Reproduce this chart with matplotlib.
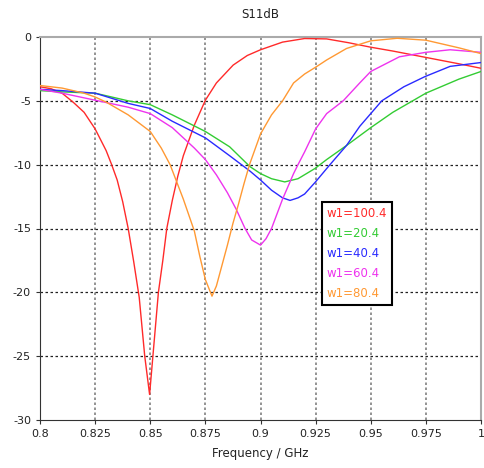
import numpy as np
import matplotlib
matplotlib.use('Agg')
import matplotlib.pyplot as plt

plt.rcParams['axes.unicode_minus'] = False
plt.rcParams['font.family'] = 'DejaVu Sans'

# curve data (frequency in GHz, S11 in dB)
f_100 = [0.800, 0.805, 0.810, 0.815, 0.820, 0.825, 0.830, 0.8325, 0.835, 0.8375, 0.840, 0.8425, 0.845,
         0.8475, 0.8497, 0.8512, 0.8537, 0.8557, 0.8575, 0.860, 0.8625, 0.865, 0.870, 0.875, 0.880,
         0.8876, 0.894, 0.900, 0.910, 0.920, 0.930, 0.940, 0.950, 0.960, 0.975, 0.990, 1.000]
s_100 = [-3.9, -4.05, -4.4, -5.1, -5.9, -7.2, -8.9, -10.0, -11.2, -12.9, -15.0, -17.6, -20.4,
         -25.0, -28.0, -25.0, -20.0, -17.5, -15.0, -12.8, -10.9, -9.3, -6.9, -4.95, -3.6,
         -2.2, -1.45, -1.0, -0.4, -0.12, -0.15, -0.45, -0.8, -1.1, -1.6, -2.1, -2.45]

f_20 = [0.800, 0.810, 0.825, 0.840, 0.850, 0.860, 0.875, 0.886, 0.8952, 0.900, 0.905, 0.911, 0.917,
        0.9247, 0.930, 0.939, 0.950, 0.960, 0.975, 0.990, 1.000]
s_20 = [-4.2, -4.3, -4.4, -5.0, -5.3, -6.1, -7.4, -8.6, -10.15, -10.7, -11.1, -11.35, -11.1,
        -10.3, -9.6, -8.5, -7.1, -5.9, -4.4, -3.3, -2.7]

f_40 = [0.800, 0.810, 0.825, 0.840, 0.850, 0.860, 0.875, 0.886, 0.8952, 0.900, 0.905, 0.910, 0.9134,
        0.917, 0.920, 0.9247, 0.9315, 0.939, 0.945, 0.955, 0.965, 0.9746, 0.986, 1.000]
s_40 = [-4.1, -4.2, -4.4, -5.2, -5.6, -6.6, -7.9, -9.3, -10.5, -11.2, -12.0, -12.6, -12.8,
        -12.6, -12.3, -11.4, -10.0, -8.5, -7.0, -5.0, -3.9, -3.1, -2.3, -2.0]

f_60 = [0.800, 0.810, 0.825, 0.840, 0.850, 0.860, 0.870, 0.875, 0.880, 0.885, 0.889, 0.893, 0.896,
        0.900, 0.9025, 0.905, 0.910, 0.915, 0.917, 0.920, 0.925, 0.930, 0.9375, 0.945, 0.950,
        0.963, 0.975, 0.986, 1.000]
s_60 = [-4.1, -4.4, -4.95, -5.5, -6.0, -7.1, -8.7, -9.6, -10.8, -12.2, -13.5, -15.0, -15.9,
        -16.3, -15.8, -15.0, -12.7, -10.7, -10.0, -9.0, -7.2, -6.0, -5.0, -3.6, -2.7,
        -1.55, -1.2, -1.0, -1.2]

f_80 = [0.800, 0.810, 0.820, 0.825, 0.830, 0.840, 0.850, 0.855, 0.859, 0.865, 0.870, 0.8725, 0.875,
        0.878, 0.880, 0.8825, 0.885, 0.8875, 0.890, 0.8925, 0.895, 0.900, 0.905, 0.910, 0.915,
        0.920, 0.9256, 0.930, 0.939, 0.950, 0.962, 0.975, 0.990, 1.000]
s_80 = [-3.8, -4.0, -4.4, -4.7, -5.1, -6.1, -7.4, -8.7, -10.0, -12.7, -15.2, -17.2, -19.0,
        -20.3, -19.5, -17.9, -16.3, -14.6, -13.1, -11.5, -10.0, -7.6, -6.1, -5.0, -3.6,
        -2.9, -2.3, -1.8, -0.9, -0.3, -0.1, -0.25, -0.85, -1.3]

labels = ['w1=100.4', 'w1=20.4', 'w1=40.4', 'w1=60.4', 'w1=80.4']
colors = ['#ff2a2a', '#33cc33', '#2a2aff', '#ee33ee', '#ff9933']
xticks = [0.8, 0.825, 0.85, 0.875, 0.9, 0.925, 0.95, 0.975, 1.0]
xticklabels = ['0.8', '0.825', '0.85', '0.875', '0.9', '0.925', '0.95', '0.975', '1']
yticks = [0, -5, -10, -15, -20, -25, -30]

fig = plt.figure(figsize=(4.84, 4.68), dpi=100)
ax = fig.add_axes([40/484, 1-420/468, 441/484, 383/468])

series = [(f_100, s_100), (f_20, s_20), (f_40, s_40), (f_60, s_60), (f_80, s_80)]
for (f, s), lab, c in zip(series, labels, colors):
    ax.plot(f, s, color=c, lw=1.0, label=lab, zorder=3)

ax.set_xlim(0.8, 1.0)
ax.set_ylim(-30, 0)
ax.set_xticks(xticks)
ax.set_xticklabels(xticklabels)
ax.set_yticks(yticks)
ax.set_yticklabels([str(v) for v in yticks])
ax.tick_params(labelsize=8, length=3, colors='#333333', labelcolor='#222222')

# grid: vertical gray dotted, horizontal black dashed
for x in xticks[1:-1]:
    ax.axvline(x, color='#808080', lw=1.2, ls=(0, (1.5, 1.5)), zorder=1)
for y in yticks[1:-1]:
    ax.axhline(y, color='#222222', lw=0.9, ls=(0, (2, 2)), zorder=1)

ax.spines['top'].set_color('#aaaaaa')
ax.spines['right'].set_color('#aaaaaa')
ax.spines['top'].set_linewidth(1.5)
ax.spines['right'].set_linewidth(1.5)
ax.spines['left'].set_color('#333333')
ax.spines['bottom'].set_color('#333333')

ax.set_title('S11dB', fontsize=8.5, color='#222222', pad=14)
ax.set_xlabel('Frequency / GHz', fontsize=8.5, color='#222222', labelpad=6)

leg = ax.legend(loc='upper left', bbox_to_anchor=(0.626, 0.585), handlelength=0, handletextpad=0,
                fontsize=8.5, fancybox=False, framealpha=1, edgecolor='black',
                borderpad=0.4, labelspacing=0.6)
leg.get_frame().set_linewidth(1.5)
for h in leg.legend_handles:
    h.set_visible(False)
for t, c in zip(leg.get_texts(), colors):
    t.set_color(c)

fig.savefig('out.png', dpi=100)
